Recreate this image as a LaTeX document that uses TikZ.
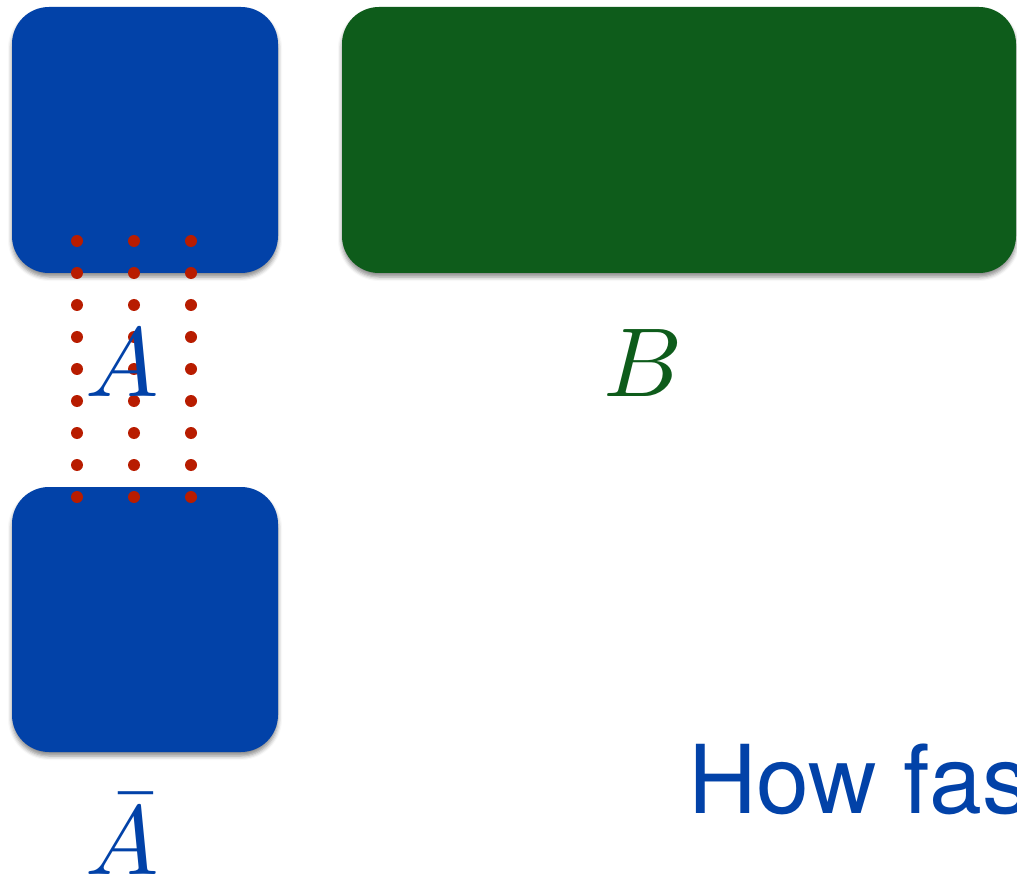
\documentclass[tikz,border=0pt]{standalone}
\usepackage{fontspec}
\newfontfamily\heros{TeX Gyre Heros}
\usetikzlibrary{shadows.blur}
\definecolor{ablue}{HTML}{0242A8}
\definecolor{bgreen}{HTML}{0E5C1B}
\definecolor{dotred}{HTML}{B81C00}
\tikzset{
  blockbox/.style={rounded corners=37pt, inner sep=0pt,
    blur shadow={shadow xshift=0pt, shadow yshift=-4pt, shadow blur radius=4pt, shadow opacity=45}},
  reddot/.style={circle, fill=dotred, inner sep=0pt, minimum size=12pt},
  biglabel/.style={anchor=base, inner sep=0pt, scale=9.8}
}
\begin{document}
\begin{tikzpicture}[x=1pt,y=-1pt]
\clip (0,0) rectangle (1017,882);
\useasboundingbox (0,0) rectangle (1017,882);
\node[blockbox, fill=ablue, minimum width=266pt, minimum height=266pt] (a) at (145,140) {};
\node[blockbox, fill=ablue, minimum width=266pt, minimum height=265pt] (abar) at (145,619.5) {};
\node[blockbox, fill=bgreen, minimum width=674pt, minimum height=266pt] (b) at (679,140) {};
\foreach \i/\x in {1/77,2/134,3/191}{
  \foreach \j in {0,...,8}{
    \node[reddot] (d\i-\j) at (\x,241+32*\j) {};
  }
}
\node[biglabel, text=ablue] (la) at (122,396) {$A$};
\node[biglabel, text=bgreen] (lb) at (643,396) {$B$};
\node[biglabel, text=ablue] (labar) at (122,874) {$\bar{A}$};
\node[anchor=base west, inner sep=0pt, text=ablue, font=\heros\fontsize{95}{100}\selectfont] (q) at (688,813) {How fast};
\end{tikzpicture}
\end{document}
